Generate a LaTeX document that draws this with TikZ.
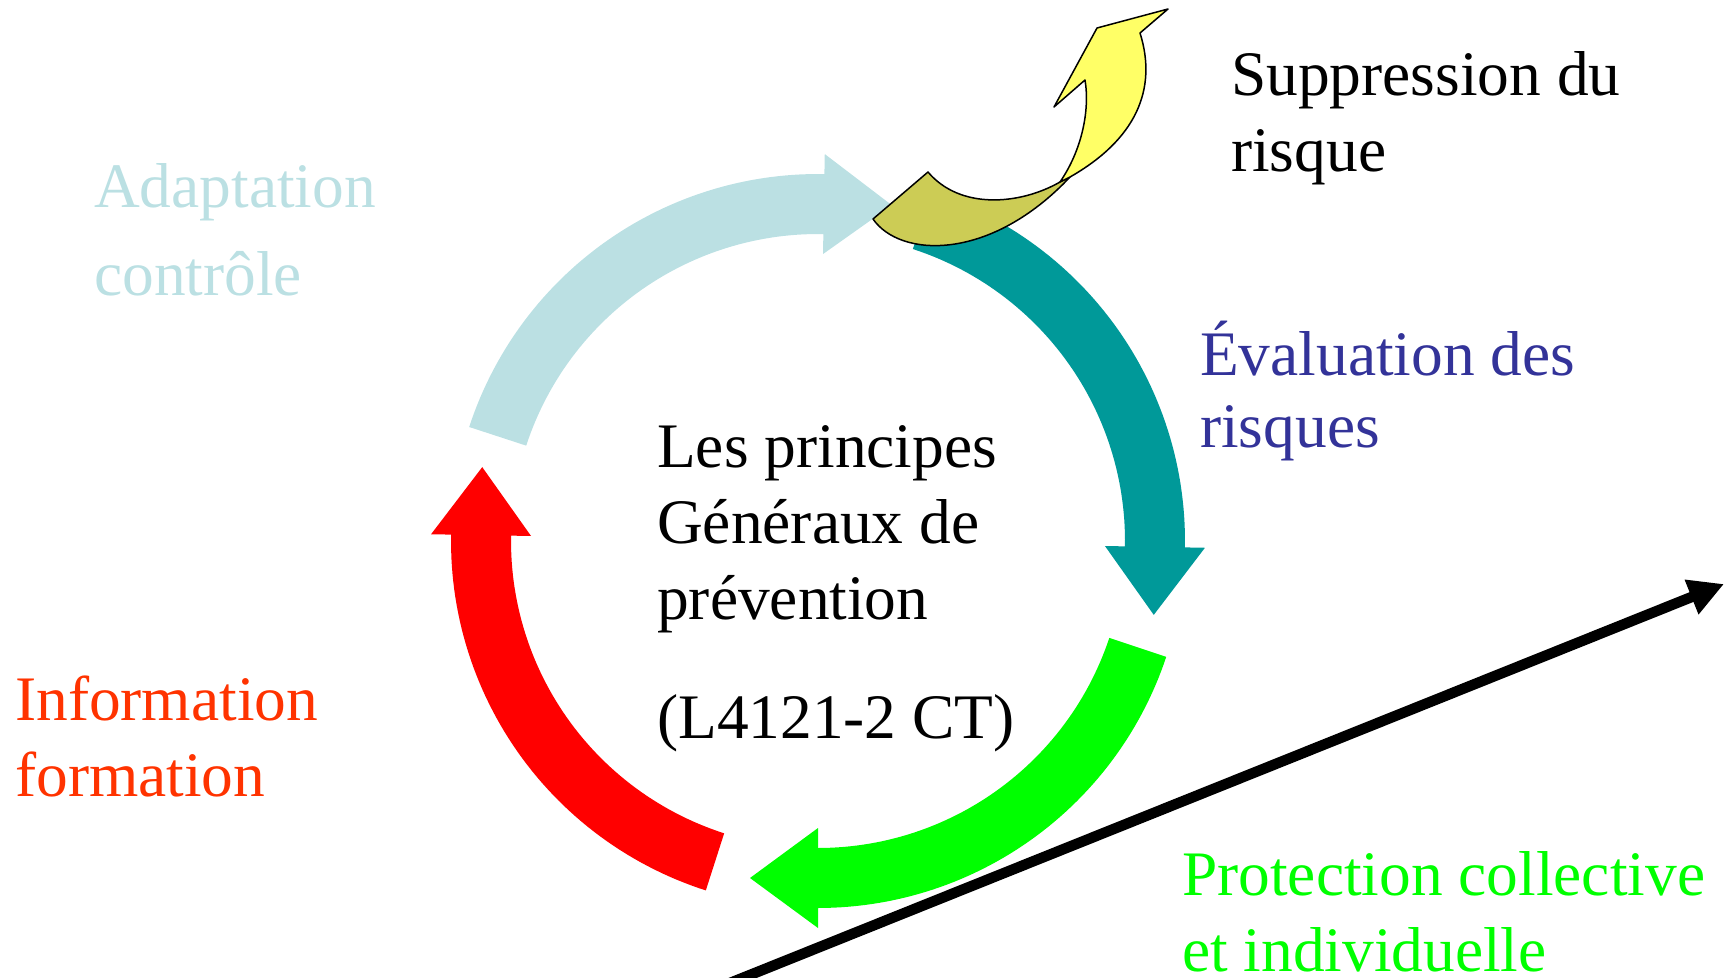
\documentclass[tikz,border=0pt]{standalone}
\usepackage{fontspec}
\setmainfont{Liberation Serif}
\usetikzlibrary{arrows.meta}
\definecolor{lblue}{HTML}{BBE0E3}
\definecolor{teal2}{HTML}{009999}
\definecolor{green2}{HTML}{00FF00}
\definecolor{red2}{HTML}{FF0000}
\definecolor{infoc}{HTML}{FF3300}
\definecolor{evalc}{HTML}{333399}
\definecolor{yell}{HTML}{FFFF66}
\definecolor{olive2}{HTML}{CCCC55}
\newcommand\RingArrow[3]{%
  \fill[#1] plot[domain=#2:#3,samples=60] ({818+367*cos(\x)},{541+367*sin(\x)})
    -- ({818+387*cos(#3)},{541+387*sin(#3)})
    -- ({818+337*cos(#3)-68*sin(#3)},{541+337*sin(#3)+68*cos(#3)})
    -- ({818+287*cos(#3)},{541+287*sin(#3)})
    -- plot[domain=#3:#2,samples=60] ({818+307*cos(\x)},{541+307*sin(\x)})
    -- cycle;}
\tikzset{
  lbl/.style={anchor=base west, inner sep=0pt, font=\fontsize{63.4}{76}\selectfont},
  ribbon/.style={draw=black, line width=1.5pt, line join=round}
}
\begin{document}
\begin{tikzpicture}[x=1pt,y=-1pt]
\useasboundingbox (0,0) rectangle (1726,977);
% ring arrows
\RingArrow{lblue}{198.1}{271}
\RingArrow{teal2}{288}{361}
\RingArrow{green2}{18.4}{90}
\RingArrow{red2}{107.8}{181}
% yellow curved arrow
\filldraw[ribbon, fill=olive2] (873,219) -- (928,172) .. controls (960,210) and (1020,205) .. (1060,182)
  -- (1070,177) .. controls (990,262) and (900,258) .. cycle;
\filldraw[ribbon, fill=yell] (1060,182) .. controls (1082,150) and (1090,110) .. (1085,80)
  -- (1054,107) -- (1097,28) -- (1168,9) -- (1140,33)
  .. controls (1158,90) and (1135,140) .. (1070,177) -- cycle;
% black axis arrow
\begin{scope}
  \clip (0,0) rectangle (1726,977);
  \coordinate (axisS) at (725,985);
  \coordinate (axisE) at (1724,584);
  \draw[line width=10.5pt, -{Triangle[length=35pt,width=35pt]}] (axisS) -- (axisE);
\end{scope}
% texts
\node[lbl, text=black] (centre) at (657,467) {\begin{tabular}[t]{@{}l@{}}Les principes\\Généraux de\\prévention\\[43.5pt](L4121-2 CT)\end{tabular}};
\node[lbl, text=lblue] (adapt) at (94,207) {\begin{tabular}[t]{@{}l@{}}Adaptation\\[12pt]contrôle\end{tabular}};
\node[lbl, text=infoc] (info) at (15,720) {\begin{tabular}[t]{@{}l@{}}Information\\formation\end{tabular}};
\node[lbl, text=black] (suppr) at (1231,95) {\begin{tabular}[t]{@{}l@{}}Suppression du\\risque\end{tabular}};
\node[lbl, text=evalc] (evalr) at (1200,375) {\begin{tabular}[t]{@{}l@{}}Évaluation des\\[-4pt]risques\end{tabular}};
\node[lbl, text=green2] (prot) at (1182,895) {\begin{tabular}[t]{@{}l@{}}Protection collective\\et individuelle\end{tabular}};
\end{tikzpicture}
\end{document}
